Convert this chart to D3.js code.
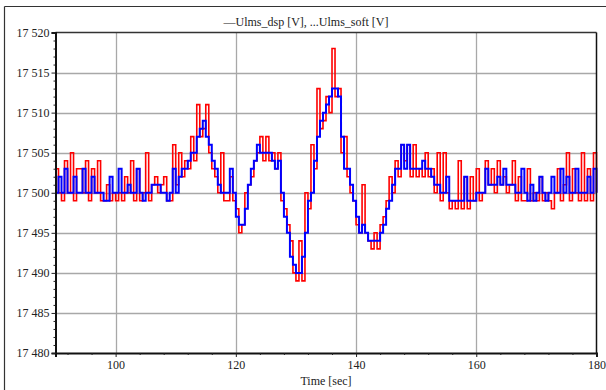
<!DOCTYPE html>
<html><head><meta charset="utf-8">
<script src="https://cdn.jsdelivr.net/npm/d3@7"></script>
<style>html,body{margin:0;padding:0;background:#fff;}svg{display:block;}</style>
</head><body>
<script>
// ---- data (0.5 s sampling from t = 90 to 180) ----
const tStart = 90, tStep = 0.5;
const ulmsDsp = [
 17500,17502,17500,17503,17500,17500,17502,17500,17500,17503,
 17500,17500,17502,17500,17500,17500,17499,17499,17502,17500,
 17500,17503,17500,17500,17501,17500,17500,17503,17500,17499,
 17500,17500,17501,17501,17501,17500,17500,17499,17500,17503,
 17500,17502,17503,17503,17504,17505,17505,17507,17508,17509,
 17507,17506,17504,17503,17501,17500,17500,17500,17503,17500,
 17497,17496,17496,17498,17501,17503,17504,17506,17505,17505,
 17505,17505,17504,17503,17504,17500,17497,17495,17492,17491,
 17490,17490,17492,17495,17499,17500,17504,17507,17509,17510,
 17511,17512,17513,17513,17512,17507,17503,17503,17501,17499,
 17497,17495,17496,17495,17494,17494,17494,17494,17495,17496,
 17498,17499,17501,17503,17503,17506,17503,17506,17503,17503,
 17503,17503,17504,17503,17503,17502,17501,17501,17500,17500,
 17502,17499,17499,17499,17499,17499,17502,17499,17499,17499,
 17500,17500,17500,17503,17501,17501,17501,17502,17501,17503,
 17501,17501,17501,17500,17500,17503,17500,17499,17501,17499,
 17500,17502,17500,17499,17500,17502,17500,17500,17503,17500,
 17502,17500,17500,17503,17500,17500,17500,17502,17500,17503,
 17500
];
const ulmsSoft = [
 17503,17500,17499,17504,17500,17505,17499,17503,17503,17500,
 17504,17499,17503,17500,17504,17499,17499,17501,17499,17500,
 17499,17500,17499,17502,17500,17504,17499,17503,17499,17500,
 17505,17499,17501,17502,17500,17501,17502,17499,17499,17506,
 17501,17505,17502,17504,17503,17507,17504,17511,17507,17508,
 17511,17505,17503,17502,17500,17505,17499,17499,17502,17499,
 17498,17495,17496,17500,17501,17502,17504,17505,17507,17504,
 17507,17504,17505,17503,17505,17499,17498,17496,17494,17490,
 17489,17494,17489,17500,17498,17506,17503,17513,17508,17509,
 17512,17510,17518,17512,17513,17505,17507,17502,17500,17499,
 17496,17495,17501,17495,17494,17493,17495,17493,17496,17497,
 17499,17502,17500,17504,17502,17506,17504,17506,17502,17506,
 17502,17503,17502,17505,17502,17503,17500,17505,17499,17505,
 17500,17498,17499,17498,17504,17498,17502,17498,17502,17499,
 17503,17499,17500,17504,17501,17503,17500,17504,17501,17502,
 17500,17501,17504,17499,17502,17499,17499,17503,17499,17500,
 17499,17502,17499,17500,17499,17498,17500,17503,17499,17501,
 17505,17499,17503,17500,17499,17505,17499,17503,17499,17505,
 17500
];
const xTicks = [100, 120, 140, 160, 180];
const yTicks = [17480, 17485, 17490, 17495, 17500, 17505, 17510, 17515, 17520];
const titleText = "\u2014Ulms_dsp [V], ...Ulms_soft [V]";
const xLabel = "Time [sec]";

// ---- layout ----
const W = 606, H = 390;
const mLeft = 55.5, mRight = 596.5, mTop = 32.5, mBottom = 353;
const svg = d3.select("body").append("svg").attr("width", W).attr("height", H);
const font = "'Liberation Serif', 'DejaVu Serif', serif";

const x = d3.scaleLinear().domain([90, 180]).range([mLeft, mRight]);
const y = d3.scaleLinear().domain([17480, 17520]).range([mBottom, mTop]);
const fmt = d3.formatLocale({decimal: ".", thousands: " ", grouping: [3], currency: ["", ""]}).format(",d");

// outer frame lines
svg.append("line").attr("x1", 4.5).attr("x2", W).attr("y1", 6.5).attr("y2", 6.5).attr("stroke", "#333").attr("stroke-width", 1.2);
svg.append("line").attr("x1", 4.5).attr("x2", 4.5).attr("y1", 6.5).attr("y2", H).attr("stroke", "#333").attr("stroke-width", 1.2);

// gridlines
svg.append("g").selectAll("line").data(xTicks.filter(d => d < 180)).join("line")
  .attr("x1", d => Math.round(x(d)) + 0.5).attr("x2", d => Math.round(x(d)) + 0.5)
  .attr("y1", mTop).attr("y2", mBottom).attr("stroke", "#a8a8a8").attr("stroke-width", 1.3);
svg.append("g").selectAll("line").data(yTicks.filter(d => d > 17480 && d < 17520)).join("line")
  .attr("x1", mLeft).attr("x2", mRight)
  .attr("y1", d => Math.round(y(d)) + 0.5).attr("y2", d => Math.round(y(d)) + 0.5)
  .attr("stroke", "#a8a8a8").attr("stroke-width", 1.3);

// data lines
const pts = arr => arr.map((v, i) => [tStart + i * tStep, v]);
const line = d3.line().x(d => x(d[0])).y(d => y(d[1])).curve(d3.curveStepAfter);
svg.append("path").datum(pts(ulmsSoft)).attr("d", line)
  .attr("fill", "none").attr("stroke", "#ff0000").attr("stroke-width", 1.6);
svg.append("path").datum(pts(ulmsDsp)).attr("d", line)
  .attr("fill", "none").attr("stroke", "#0000ff").attr("stroke-width", 2);

// plot border
svg.append("line").attr("x1", mLeft).attr("x2", mRight).attr("y1", mTop).attr("y2", mTop).attr("stroke", "#333").attr("stroke-width", 1.3);
svg.append("line").attr("x1", mRight).attr("x2", mRight).attr("y1", mTop).attr("y2", mBottom).attr("stroke", "#111").attr("stroke-width", 1.5);

// axes
const xAxis = svg.append("g").attr("transform", `translate(0,${mBottom})`)
  .call(d3.axisBottom(x).tickValues(xTicks).tickSize(4).tickPadding(3).tickFormat(d3.format("d")));
const xMinor = svg.append("g").attr("transform", `translate(0,${mBottom})`)
  .call(d3.axisBottom(x).tickValues(d3.range(92, 180, 4).filter(d => d % 20 !== 0)).tickSize(2).tickFormat(""));
const yAxis = svg.append("g").attr("transform", `translate(${mLeft},0)`)
  .call(d3.axisLeft(y).tickValues(yTicks).tickSize(4).tickPadding(2).tickFormat(fmt));
const yMinor = svg.append("g").attr("transform", `translate(${mLeft},0)`)
  .call(d3.axisLeft(y).tickValues(d3.range(17481, 17520, 1).filter(d => d % 5 !== 0)).tickSize(2).tickFormat(""));
[xAxis, xMinor, yAxis, yMinor].forEach(g => {
  g.select(".domain").attr("stroke", "#111").attr("stroke-width", 2);
  g.selectAll(".tick line").attr("stroke", "#222");
  g.selectAll("text").attr("font-family", font).attr("font-size", 12).attr("fill", "#222");
});
xMinor.select(".domain").remove();
yMinor.select(".domain").remove();

// texts
svg.append("text").attr("x", 326).attr("y", 385).attr("text-anchor", "middle")
  .attr("font-family", font).attr("font-size", 12).attr("fill", "#222").text(xLabel);
svg.append("text").attr("x", 306).attr("y", 26).attr("text-anchor", "middle")
  .attr("font-family", font).attr("font-size", 12).attr("fill", "#222").text(titleText);
</script>
</body></html>
